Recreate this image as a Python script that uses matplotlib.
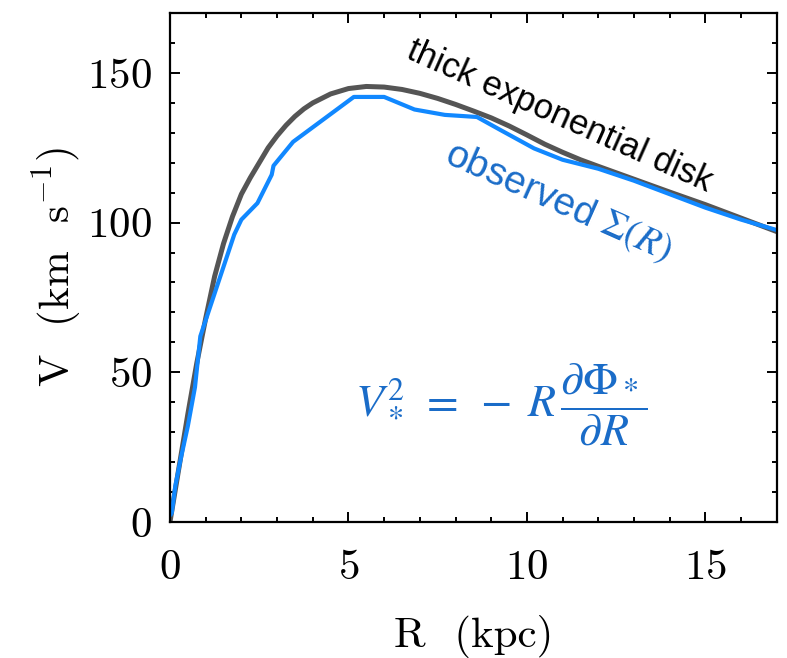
import matplotlib
matplotlib.use('Agg')
import matplotlib.pyplot as plt
from matplotlib.ticker import MultipleLocator

# rotation curve data
R_disk = [0, 0.25, 0.5, 0.75, 1, 1.25, 1.5, 1.75, 2, 2.25, 2.5, 2.75, 3, 3.25, 3.5, 3.75,
          4, 4.5, 5, 5.5, 6, 6.5, 7, 7.5, 8, 8.5, 9, 9.5, 10, 10.5, 11, 11.5, 12,
          13, 14, 15, 16, 17]
V_disk = [0, 18, 36, 53, 68, 82, 93, 102, 109.5, 115, 120, 125, 129, 132.5, 135.5, 138,
          140, 143, 144.8, 145.5, 145.3, 144.5, 143.2, 141.5, 139.5, 137.3, 135, 132.3, 129.3, 126.2, 123.5, 121, 118.8,
          114.5, 110.2, 106, 101.5, 97]

R_obs = [0.0, 0.05, 0.15, 0.3, 0.5, 0.7, 0.85, 1.8, 2.0, 2.45, 2.85, 2.9, 3.45, 5.15, 6.0,
         6.85, 7.7, 8.6, 9.25, 10.2, 11.0, 12.0, 13.0, 14.0, 15.0, 16.0, 17.0]
V_obs = [2, 3, 12, 21, 32, 45, 62, 96, 101, 106.5, 116, 119, 127, 142, 142,
         137.8, 136, 135.3, 131, 124.8, 121, 118, 114, 109.5, 105, 101, 97.5]

x_ticks = [0, 5, 10, 15]
y_ticks = [0, 50, 100, 150]

plt.rcParams['font.family'] = 'cmr10'
plt.rcParams['mathtext.fontset'] = 'cm'
plt.rcParams['axes.formatter.use_mathtext'] = True

fig = plt.figure(figsize=(7.87, 6.58), dpi=100)
ax = fig.add_axes([0.216, 0.207, 0.771, 0.773])

ax.plot(R_disk, V_disk, color='#555555', lw=3.6, solid_capstyle='butt')
ax.plot(R_obs, V_obs, color='#1188ff', lw=3.0, solid_capstyle='butt')

ax.set_xlim(0, 17)
ax.set_ylim(0, 170)
ax.set_xticks(x_ticks)
ax.set_yticks(y_ticks)
ax.xaxis.set_minor_locator(MultipleLocator(1))
ax.yaxis.set_minor_locator(MultipleLocator(10))
ax.tick_params(which='both', direction='in', top=True, right=True, width=1.4)
ax.tick_params(which='major', length=7, labelsize=31)
ax.tick_params(axis='x', which='major', pad=20)
ax.tick_params(axis='y', which='major', pad=13)
ax.tick_params(which='minor', length=3.5)
for s in ax.spines.values():
    s.set_linewidth(1.6)

ax.set_xlabel('R  (kpc)', fontsize=31, labelpad=20)
ax.set_ylabel(r'V  (km  s$^{-1}$)', fontsize=31, labelpad=2)

# annotations
ax.text(10.93, 135.5, 'thick exponential disk', rotation=-24, fontsize=25,
        family='Liberation Sans', ha='center', va='center', rotation_mode='anchor')
ax.text(10.9, 107, r'observed $\Sigma(R)$', rotation=-24, fontsize=28,
        family='Liberation Sans', color='#1a6cc8', ha='center', va='center',
        rotation_mode='anchor', math_fontfamily='stix')
ax.text(9.28, 39, r'$V_*^2\;=\;-\;R\,\dfrac{\partial\Phi_*}{\partial R}$', fontsize=33,
        color='#1a6cc8', ha='center', va='center', math_fontfamily='stix')

plt.savefig('out.png', dpi=100)
